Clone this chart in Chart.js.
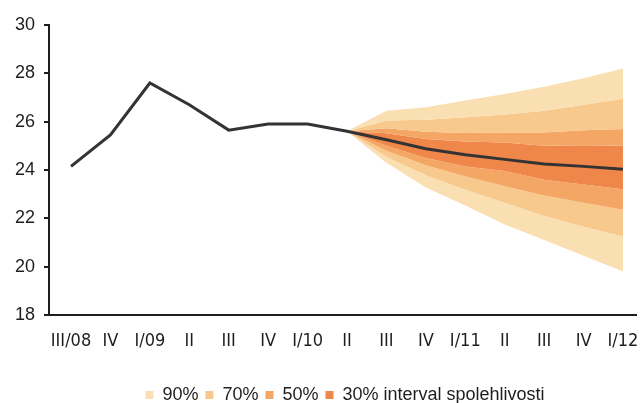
<!DOCTYPE html>
<html>
<head>
<meta charset="utf-8">
<script src="https://cdn.jsdelivr.net/npm/chart.js@4.4.1/dist/chart.umd.min.js"></script>
<style>
  html, body { margin: 0; padding: 0; background: #ffffff; }
  #wrap { width: 640px; height: 403px; position: relative; }
</style>
</head>
<body>
<div id="wrap"><canvas id="c"></canvas></div>
<script>
// Quarterly labels along the horizontal axis
const quarters = ['III/08', 'IV', 'I/09', 'II', 'III', 'IV', 'I/10', 'II', 'III', 'IV', 'I/11', 'II', 'III', 'IV', 'I/12'];

// Observed values followed by the central projection
const actual = [24.15, 25.45, 27.6, 26.7, 25.65, 25.9, 25.9, 25.6, 25.25, 24.88, 24.63, 24.44, 24.25, 24.15, 24.03];

// Fan bounds for the confidence intervals (projection starts at II/10)
const N = null;
const upper90 = [N, N, N, N, N, N, N, 25.6, 26.45, 26.6, 26.88, 27.15, 27.45, 27.8, 28.2];
const upper70 = [N, N, N, N, N, N, N, 25.6, 26.05, 26.08, 26.18, 26.3, 26.45, 26.7, 26.95];
const upper50 = [N, N, N, N, N, N, N, 25.6, 25.73, 25.58, 25.53, 25.55, 25.55, 25.65, 25.7];
const upper30 = [N, N, N, N, N, N, N, 25.6, 25.52, 25.28, 25.18, 25.14, 25.0, 25.02, 25.0];
const lower30 = [N, N, N, N, N, N, N, 25.6, 25.0, 24.5, 24.15, 23.96, 23.6, 23.4, 23.2];
const lower50 = [N, N, N, N, N, N, N, 25.6, 24.8, 24.2, 23.73, 23.33, 22.95, 22.65, 22.36];
const lower70 = [N, N, N, N, N, N, N, 25.6, 24.55, 23.78, 23.18, 22.64, 22.1, 21.65, 21.25];
const lower90 = [N, N, N, N, N, N, N, 25.6, 24.3, 23.28, 22.53, 21.75, 21.1, 20.45, 19.8];

const yTicks = [18, 20, 22, 24, 26, 28, 30];

const c90 = '#fadfb2';
const c70 = '#f8c98d';
const c50 = '#f4a664';
const c30 = '#f0874a';

const pts = arr => arr.map((v, i) => ({ x: i, y: v }));

function band(label, data, color, legend) {
  return {
    label: label,
    data: pts(data),
    borderWidth: 0,
    borderColor: color,
    backgroundColor: color,
    pointRadius: 0,
    fill: '+1',
    tension: 0,
    showInLegend: legend
  };
}

const datasets = [
  {
    label: 'skutečnost a prognóza',
    data: pts(actual),
    borderColor: '#333333',
    borderWidth: 3,
    pointRadius: 0,
    fill: false,
    tension: 0,
    showInLegend: false
  },
  band('90%', upper90, c90, true),
  band('70%', upper70, c70, true),
  band('50%', upper50, c50, true),
  band('30% interval spolehlivosti', upper30, c30, true),
  band('', lower30, c50, false),
  band('', lower50, c70, false),
  band('', lower70, c90, false),
  { label: '', data: pts(lower90), borderWidth: 0, pointRadius: 0, fill: false, showInLegend: false }
];

// Nudges the bottom legend box off the centre line
const legendShift = {
  id: 'legendShift',
  afterLayout(chart) {
    const lg = chart.legend;
    if (!lg) return;
    const dx = 27, dy = 11;
    lg.left += dx; lg.right += dx;
    lg.top += dy; lg.bottom += dy;
  }
};

new Chart(document.getElementById('c'), {
  type: 'line',
  data: { datasets: datasets },
  plugins: [legendShift],
  options: {
    responsive: true,
    maintainAspectRatio: false,
    animation: false,
    events: [],
    layout: { padding: { left: 0, right: 4, top: 25, bottom: 0 } },
    plugins: {
      legend: {
        position: 'bottom',
        labels: {
          boxWidth: 8,
          boxHeight: 8,
          padding: 7,
          color: '#1e1e1e',
          font: { family: 'Liberation Sans, Arial, sans-serif', size: 18 },
          filter: (item, data) => data.datasets[item.datasetIndex].showInLegend
        }
      },
      tooltip: { enabled: false }
    },
    scales: {
      x: {
        type: 'linear',
        min: -0.558,
        max: 14.33,
        afterFit: s => { s.height = 53; s.paddingLeft = 0; s.paddingRight = 0; },
        grid: { display: false, drawTicks: false },
        border: { display: true, color: '#1e1e1e', width: 2 },
        afterBuildTicks: s => { s.ticks = quarters.map((q, i) => ({ value: i })); },
        ticks: {
          autoSkip: false,
          maxRotation: 0,
          padding: 16,
          color: '#1e1e1e',
          font: { family: 'Liberation Sans Narrow, Arial Narrow, DejaVu Sans Condensed, sans-serif', size: 18 },
          callback: v => quarters[v] ?? ''
        }
      },
      y: {
        min: 18,
        max: 30,
        afterFit: s => { s.width = 49; },
        afterBuildTicks: s => { s.ticks = yTicks.map(v => ({ value: v })); },
        grid: { display: true, drawOnChartArea: false, drawTicks: true, tickLength: 5, color: '#1e1e1e', lineWidth: 2 },
        border: { display: true, color: '#1e1e1e', width: 2 },
        ticks: {
          padding: 9,
          color: '#1e1e1e',
          font: { family: 'Liberation Sans, Arial, sans-serif', size: 18 }
        }
      }
    }
  }
});
</script>
</body>
</html>
